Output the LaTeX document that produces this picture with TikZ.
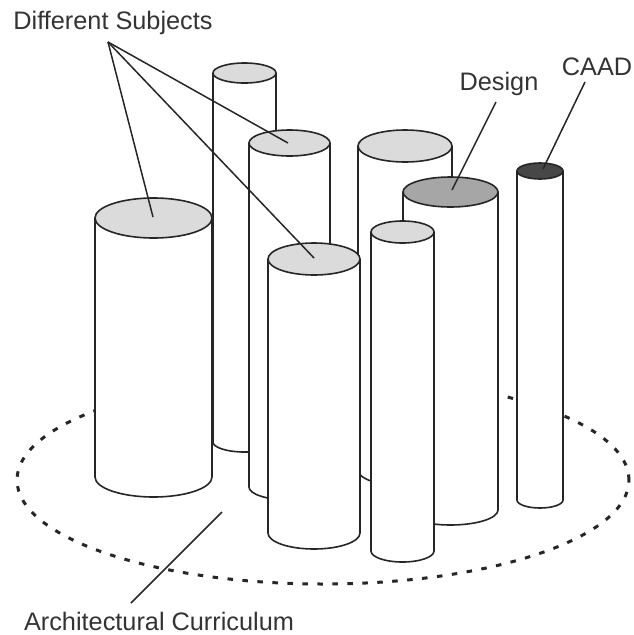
\documentclass[tikz,border=0pt]{standalone}
\usepackage{fontspec}
\setmainfont{Liberation Sans}
\begin{document}
\begin{tikzpicture}[x=1pt,y=-1pt,
  cylline/.style={draw=black!85,line width=1.6pt,line join=round},
  leader/.style={draw=black!85,line width=1.5pt},
  ground/.style={draw=black!85,line width=3pt,dash pattern=on 5.5pt off 9.5pt,line cap=butt},
  lbl/.style={font=\fontsize{25.3}{29}\selectfont,text=black!80,inner sep=0pt},
  lightcap/.style={fill=black!14},
  midcap/.style={fill=black!35},
  darkcap/.style={fill=black!72}]
\useasboundingbox (0,0) rectangle (634,635);

% cylinder: centre x, radius x, top y, bottom y, radius y, cap style
\newcommand\column[6]{%
  \fill[white] (#1-#2,#4) arc[start angle=180,end angle=360,x radius=#2pt,y radius=#5pt]
     -- (#1+#2,#3) -- (#1-#2,#3) -- cycle;
  \draw[cylline] (#1-#2,#3) -- (#1-#2,#4)
     arc[start angle=180,end angle=360,x radius=#2pt,y radius=#5pt] -- (#1+#2,#3);
  \draw[cylline,#6] (#1,#3) ellipse[x radius=#2pt,y radius=#5pt];
}

% the curriculum ground
\draw[ground] (323,480) ellipse[x radius=306pt,y radius=104pt];

% columns, back to front
\column{244.5}{31.5}{73}{442}{10}{lightcap}
\column{405}{47}{146}{470}{16}{lightcap}
\column{153.5}{58.5}{218}{477}{20}{lightcap}
\column{289.5}{40.5}{143}{487}{13}{lightcap}
\column{540}{23}{171}{500}{8}{darkcap}
\column{450.5}{47.5}{192}{510}{15}{midcap}
\column{314}{46}{259}{533}{16}{lightcap}
\column{402.5}{31.5}{232}{551}{11}{lightcap}

% labels
\node[lbl] (subjects) at (113,23) {Different Subjects};
\node[lbl] (design) at (499,84) {Design};
\node[lbl] (caad) at (597,67) {CAAD};
\node[lbl] (curric) at (159,621) {Architectural Curriculum};

\coordinate (sfan) at (108,42);
\coordinate (s1) at (153,217);
\coordinate (s2) at (288,143);
\coordinate (s3) at (314,258);
\coordinate (dfoot) at (496,102);
\coordinate (dtop) at (452,190);
\coordinate (cfoot) at (585,82);
\coordinate (ctop) at (543,169);
\coordinate (afoot) at (131,603);
\coordinate (aend) at (222,512);

\draw[leader] (sfan) -- (s1);
\draw[leader] (sfan) -- (s2);
\draw[leader] (sfan) -- (s3);
\draw[leader] (dfoot) -- (dtop);
\draw[leader] (cfoot) -- (ctop);
\draw[leader] (afoot) -- (aend);
\end{tikzpicture}
\end{document}
